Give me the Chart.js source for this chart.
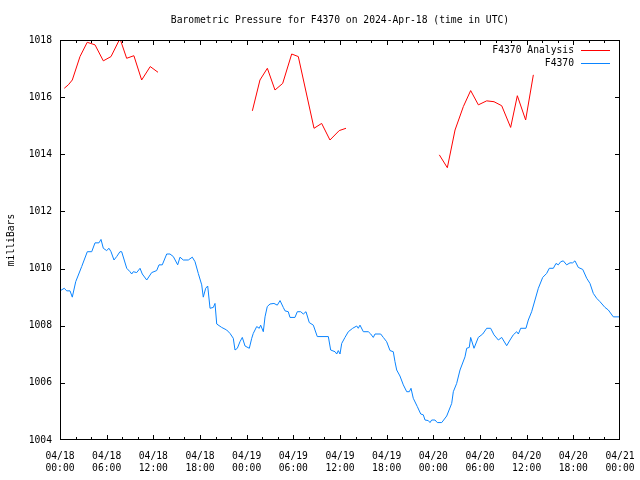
<!DOCTYPE html>
<html>
<head>
<meta charset="utf-8">
<script src="https://cdn.jsdelivr.net/npm/chart.js@4"></script>
<style>
  html, body { margin: 0; padding: 0; background: #fff; }
  #wrap { width: 640px; height: 480px; }
</style>
</head>
<body>
<div id="wrap"><canvas id="pressureChart" width="640" height="480"></canvas></div>
<script>
// hours since 2024-04-18 00:00 UTC
const analysisHours = [
    0.55, 1.07, 1.58, 2.57, 3.5, 4.5, 5.57, 6.56, 7.71, 8.57, 9.5, 10.5, 11.6, 12.6,
    18.0,
    24.73, 25.71, 26.66, 27.64, 28.63, 29.79, 30.64, 32.66, 33.64, 34.71, 35.9, 36.77,
    42.0,
    48.77, 49.8, 50.79, 51.86, 52.8, 53.79, 54.86, 55.8, 56.79, 57.94, 58.8, 59.87, 60.86
];
const analysisValues = [
    1016.31, 1016.43, 1016.6, 1017.42, 1017.92, 1017.83, 1017.27, 1017.42, 1018.05, 1017.36, 1017.45, 1016.6, 1017.07, 1016.87,
    null,
    1015.52, 1016.6, 1017.01, 1016.25, 1016.48, 1017.51, 1017.42, 1014.91, 1015.08, 1014.5, 1014.83, 1014.91,
    null,
    1013.98, 1013.53, 1014.85, 1015.67, 1016.23, 1015.73, 1015.87, 1015.84, 1015.7, 1014.94, 1016.05, 1015.2, 1016.78
];

const stationHours = [
    0.00, 0.55, 0.86, 1.29, 1.58, 2.02, 2.79, 3.51, 4.08, 4.50, 5.01, 5.27, 5.57, 6.00, 6.30, 6.56, 6.94, 7.29,
    7.71, 7.93, 8.58, 9.00, 9.22, 9.42, 9.86, 10.29, 10.58, 11.15, 11.79, 12.43, 12.73, 13.15, 13.72, 14.14,
    14.57, 15.13, 15.43, 15.85, 16.50, 17.01, 17.36, 17.78, 18.22, 18.42, 18.73, 18.99, 19.29, 19.71, 19.93,
    20.15, 20.79, 21.43, 21.86, 22.28, 22.50, 22.80, 23.14, 23.44, 23.79, 24.34, 24.65, 24.85, 25.29, 25.62,
    25.80, 26.14, 26.36, 26.65, 27.00, 27.51, 27.94, 28.29, 28.71, 28.93, 29.35, 29.57, 30.21, 30.51, 30.95,
    31.28, 31.63, 32.05, 32.57, 33.08, 34.50, 34.80, 35.36, 35.58, 35.78, 36.00, 36.22, 36.64, 37.07, 37.63,
    38.15, 38.35, 38.57, 39.00, 39.64, 39.95, 40.28, 40.50, 41.23, 41.57, 42.00, 42.43, 42.85, 43.07, 43.29,
    43.71, 44.14, 44.58, 44.91, 45.13, 45.42, 45.94, 46.38, 46.71, 46.93, 47.35, 47.57, 47.79, 48.21, 48.51,
    49.08, 49.72, 50.36, 50.57, 51.00, 51.43, 52.07, 52.29, 52.62, 52.80, 53.23, 53.78, 54.35, 54.86, 55.37,
    55.80, 56.36, 56.79, 57.43, 57.86, 58.28, 58.72, 58.93, 59.23, 59.91, 60.21, 60.64, 61.07, 61.50, 62.06,
    62.57, 62.91, 63.43, 63.77, 64.07, 64.38, 64.71, 65.14, 65.57, 65.91, 66.21, 66.64, 67.21, 67.72, 68.14,
    68.57, 69.00, 69.43, 70.07, 70.50, 71.14, 72.00
];
const stationValues = [
    1009.22, 1009.31, 1009.22, 1009.22, 1009.00, 1009.54, 1010.07, 1010.59, 1010.59, 1010.90, 1010.90, 1011.02, 1010.71, 1010.63, 1010.71, 1010.59, 1010.30, 1010.42,
    1010.59, 1010.59, 1010.01, 1009.89, 1009.81, 1009.89, 1009.86, 1010.01, 1009.81, 1009.60, 1009.86, 1009.93, 1010.13, 1010.13, 1010.51, 1010.51,
    1010.42, 1010.13, 1010.40, 1010.30, 1010.30, 1010.40, 1010.24, 1009.83, 1009.43, 1009.00, 1009.31, 1009.39, 1008.61, 1008.64, 1008.78,
    1008.06, 1007.94, 1007.85, 1007.73, 1007.56, 1007.15, 1007.21, 1007.44, 1007.59, 1007.29, 1007.21, 1007.56, 1007.73, 1007.97, 1007.91,
    1008.02, 1007.79, 1008.31, 1008.67, 1008.76, 1008.78, 1008.72, 1008.88, 1008.64, 1008.52, 1008.49, 1008.29, 1008.29, 1008.49, 1008.49,
    1008.41, 1008.49, 1008.11, 1008.02, 1007.62, 1007.62, 1007.15, 1007.09, 1007.01, 1007.13, 1007.01, 1007.38, 1007.59, 1007.79, 1007.91,
    1007.99, 1007.91, 1008.02, 1007.79, 1007.79, 1007.71, 1007.59, 1007.71, 1007.71, 1007.59, 1007.44, 1007.13, 1007.09, 1006.74, 1006.45,
    1006.24, 1005.93, 1005.69, 1005.69, 1005.81, 1005.46, 1005.17, 1004.91, 1004.88, 1004.70, 1004.68, 1004.61, 1004.70, 1004.70, 1004.61,
    1004.61, 1004.84, 1005.28, 1005.69, 1005.98, 1006.45, 1006.91, 1007.21, 1007.24, 1007.59, 1007.21, 1007.59, 1007.71, 1007.91, 1007.91,
    1007.68, 1007.50, 1007.59, 1007.30, 1007.50, 1007.68, 1007.79, 1007.71, 1007.91, 1007.91, 1008.20, 1008.49, 1008.90, 1009.31, 1009.69,
    1009.83, 1010.01, 1010.01, 1010.18, 1010.13, 1010.24, 1010.27, 1010.13, 1010.20, 1010.20, 1010.27, 1010.04, 1009.97, 1009.66, 1009.48,
    1009.13, 1008.96, 1008.84, 1008.64, 1008.55, 1008.31, 1008.31
];

const yTicks = [1004, 1006, 1008, 1010, 1012, 1014, 1016, 1018];
const xTickDays = ['04/18', '04/19', '04/20', '04/21'];
const xTickTimes = ['00:00', '06:00', '12:00', '18:00'];

const chartTitle = 'Barometric Pressure for F4370 on 2024-Apr-18 (time in UTC)';
const FONT = 'DejaVu Sans Mono';
const FONT_SIZE = 9.7;

function toPoints(hours, values) {
    return hours.map(function (h, i) { return { x: h, y: values[i] }; });
}

// gnuplot style frame, inward ticks, title and legend
const gnuplotFrame = {
    id: 'gnuplotFrame',
    afterDraw: function (chart) {
        const ctx = chart.ctx;
        const area = chart.chartArea;
        const xs = chart.scales.x;
        const ys = chart.scales.y;
        const L = Math.round(area.left), R = Math.round(area.right);
        const T = Math.round(area.top), B = Math.round(area.bottom);

        ctx.save();
        ctx.fillStyle = '#000';
        // frame as 1px rects
        ctx.fillRect(L, T, R - L, 1);
        ctx.fillRect(L, B - 1, R - L, 1);
        ctx.fillRect(L, T, 1, B - T);
        ctx.fillRect(R - 1, T, 1, B - T);

        for (let h = 0; h <= 72; h += 2) {
            const px = Math.min(Math.round(xs.getPixelForValue(h)), R - 1);
            const len = (h % 6 === 0) ? 5 : 3;
            ctx.fillRect(px, B - len, 1, len);
            ctx.fillRect(px, T, 1, len);
        }
        yTicks.forEach(function (v) {
            const py = Math.min(Math.round(ys.getPixelForValue(v)), B - 1);
            ctx.fillRect(L, py, 5, 1);
            ctx.fillRect(R - 5, py, 5, 1);
        });

        ctx.font = FONT_SIZE + 'px "' + FONT + '"';
        ctx.textAlign = 'center';
        ctx.textBaseline = 'middle';
        ctx.fillText(chartTitle, (area.left + area.right) / 2, 20);

        // legend, text right aligned, line sample after it
        ctx.textAlign = 'right';
        chart.data.datasets.forEach(function (ds, i) {
            const y = T + 10 + i * 13;
            ctx.fillStyle = '#000';
            ctx.fillText(ds.label, R - 46, y);
            ctx.fillStyle = ds.borderColor;
            ctx.fillRect(R - 39, Math.round(y), 29, 1);
        });
        ctx.restore();
    }
};

new Chart(document.getElementById('pressureChart'), {
    type: 'line',
    data: {
        datasets: [{
            label: 'F4370 Analysis',
            data: toPoints(analysisHours, analysisValues),
            borderColor: '#ff0000',
            borderWidth: 1,
            pointRadius: 0,
            spanGaps: false,
            tension: 0,
            clip: 0
        }, {
            label: 'F4370',
            data: toPoints(stationHours, stationValues),
            borderColor: '#0a84ff',
            borderWidth: 1,
            pointRadius: 0,
            tension: 0,
            clip: 0
        }]
    },
    options: {
        responsive: false,
        animation: false,
        devicePixelRatio: 1,
        layout: { padding: { left: 0, right: 20, top: 40, bottom: 0 } },
        plugins: {
            legend: { display: false },
            tooltip: { enabled: false }
        },
        scales: {
            x: {
                type: 'linear',
                min: 0,
                max: 72,
                afterFit: function (scale) {
                    scale.height = 40;
                    scale.paddingLeft = 0;
                    scale.paddingRight = 0;
                },
                grid: { display: false, drawTicks: false },
                border: { display: false },
                ticks: {
                    stepSize: 6,
                    padding: 10,
                    maxRotation: 0,
                    autoSkip: false,
                    color: '#000',
                    font: { family: FONT, size: FONT_SIZE, lineHeight: 1.25 },
                    callback: function (value) {
                        const day = xTickDays[Math.floor(value / 24)];
                        const time = xTickTimes[Math.round((value % 24) / 6)];
                        return [day, time];
                    }
                }
            },
            y: {
                min: 1004,
                max: 1018,
                afterFit: function (scale) {
                    scale.width = 60;
                    scale.paddingTop = 0;
                    scale.paddingBottom = 0;
                },
                grid: { display: false, drawTicks: false },
                border: { display: false },
                title: {
                    display: true,
                    text: 'milliBars',
                    color: '#000',
                    padding: { top: 6, bottom: 0 },
                    font: { family: FONT, size: FONT_SIZE }
                },
                ticks: {
                    stepSize: 2,
                    padding: 8,
                    color: '#000',
                    font: { family: FONT, size: FONT_SIZE },
                    callback: function (value) { return String(value); }
                }
            }
        }
    },
    plugins: [gnuplotFrame]
});
</script>
</body>
</html>
